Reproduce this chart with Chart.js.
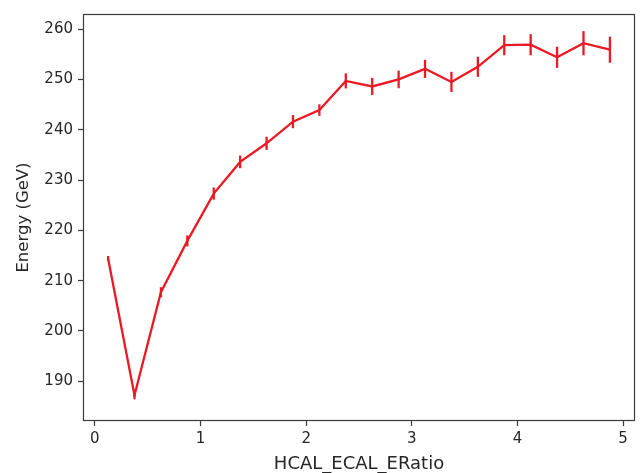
<!DOCTYPE html>
<html>
<head>
<meta charset="utf-8">
<script src="https://cdn.jsdelivr.net/npm/chart.js@4/dist/chart.umd.min.js"></script>
<style>
  html, body { margin: 0; padding: 0; background: #ffffff; }
  canvas { display: block; }
</style>
</head>
<body>
<canvas id="chart" width="640" height="473"></canvas>
<script>
// Bin centres of HCAL/ECAL energy ratio
const ratioBins = [0.125, 0.375, 0.625, 0.875, 1.125, 1.375, 1.625, 1.875, 2.125, 2.375,
                   2.625, 2.875, 3.125, 3.375, 3.625, 3.875, 4.125, 4.375, 4.625, 4.875];
// Mean reconstructed energy per bin (GeV)
const energyMean = [214.4, 187.2, 207.7, 217.9, 227.3, 233.6, 237.3, 241.6, 243.9, 249.7,
                    248.6, 250.0, 252.1, 249.5, 252.5, 256.8, 256.9, 254.4, 257.2, 255.9];
// Uncertainty on the mean (GeV)
const energyErr = [0.5, 0.7, 1.0, 1.1, 1.2, 1.25, 1.3, 1.3, 1.15, 1.5,
                   1.7, 1.75, 1.8, 2.0, 2.0, 2.0, 2.1, 2.1, 2.4, 2.6];
// Axis tick values
const xTicks = [0, 1, 2, 3, 4, 5];
const yTicks = [190, 200, 210, 220, 230, 240, 250, 260];

const lineRed = '#ea1a24';
const inkColor = '#262626';
const frameColor = '#3a3a3a';
const fontFamily = '"DejaVu Sans", Verdana, sans-serif';

// Vertical error bars drawn through the chart's own scales
const errorBars = {
  id: 'errorBars',
  afterDatasetsDraw(chart) {
    const { ctx, scales: { x, y } } = chart;
    ctx.save();
    ctx.strokeStyle = lineRed;
    ctx.lineWidth = 2.3;
    ctx.lineCap = 'butt';
    ratioBins.forEach((bx, i) => {
      const px = x.getPixelForValue(bx);
      const top = y.getPixelForValue(energyMean[i] + energyErr[i]);
      const bot = y.getPixelForValue(energyMean[i] - energyErr[i]);
      ctx.beginPath();
      ctx.moveTo(px, top);
      ctx.lineTo(px, bot);
      ctx.stroke();
    });
    ctx.restore();
  }
};

// Box around the plotting area
const axesFrame = {
  id: 'axesFrame',
  afterDraw(chart) {
    const { ctx, chartArea: a } = chart;
    ctx.save();
    ctx.strokeStyle = frameColor;
    ctx.lineWidth = 1.2;
    ctx.strokeRect(Math.round(a.left) + 0.5, Math.round(a.top) + 0.5,
                   Math.round(a.right - a.left) - 1, Math.round(a.bottom - a.top) - 1);
    ctx.restore();
  }
};

new Chart(document.getElementById('chart'), {
  type: 'line',
  data: {
    datasets: [{
      data: ratioBins.map((bx, i) => ({ x: bx, y: energyMean[i] })),
      borderColor: lineRed,
      borderWidth: 2.3,
      pointRadius: 0,
      tension: 0,
      fill: false
    }]
  },
  options: {
    responsive: false,
    animation: false,
    devicePixelRatio: 1,
    layout: { padding: { top: 12, right: 5, left: 0, bottom: 0 } },
    plugins: {
      legend: { display: false },
      tooltip: { enabled: false }
    },
    scales: {
      x: {
        type: 'linear',
        min: -0.1125,
        max: 5.1125,
        afterBuildTicks(scale) { scale.ticks = xTicks.map(v => ({ value: v })); },
        afterFit(scale) { scale.height = 52; },
        ticks: {
          font: { family: fontFamily, size: 15 },
          color: inkColor,
          padding: 4,
          maxRotation: 0,
          callback: v => String(v)
        },
        grid: {
          drawOnChartArea: false,
          drawTicks: true,
          tickLength: 5,
          tickWidth: 1.2,
          tickColor: frameColor
        },
        border: { display: false },
        title: {
          display: true,
          text: 'HCAL_ECAL_ERatio',
          color: inkColor,
          font: { family: fontFamily, size: 18, lineHeight: 1 },
          padding: { top: 0, bottom: 0 }
        }
      },
      y: {
        type: 'linear',
        min: 182.1,
        max: 263.0,
        afterBuildTicks(scale) { scale.ticks = yTicks.map(v => ({ value: v })); },
        afterFit(scale) { scale.width = 83; },
        ticks: {
          font: { family: fontFamily, size: 15 },
          color: inkColor,
          padding: 5,
          callback: v => String(v)
        },
        grid: {
          drawOnChartArea: false,
          drawTicks: true,
          tickLength: 5,
          tickWidth: 1.2,
          tickColor: frameColor
        },
        border: { display: false },
        title: {
          display: true,
          text: 'Energy (GeV)',
          color: inkColor,
          font: { family: fontFamily, size: 16.5, lineHeight: 1 },
          padding: { top: 15.5, bottom: 0 }
        }
      }
    }
  },
  plugins: [errorBars, axesFrame]
});
</script>
</body>
</html>
